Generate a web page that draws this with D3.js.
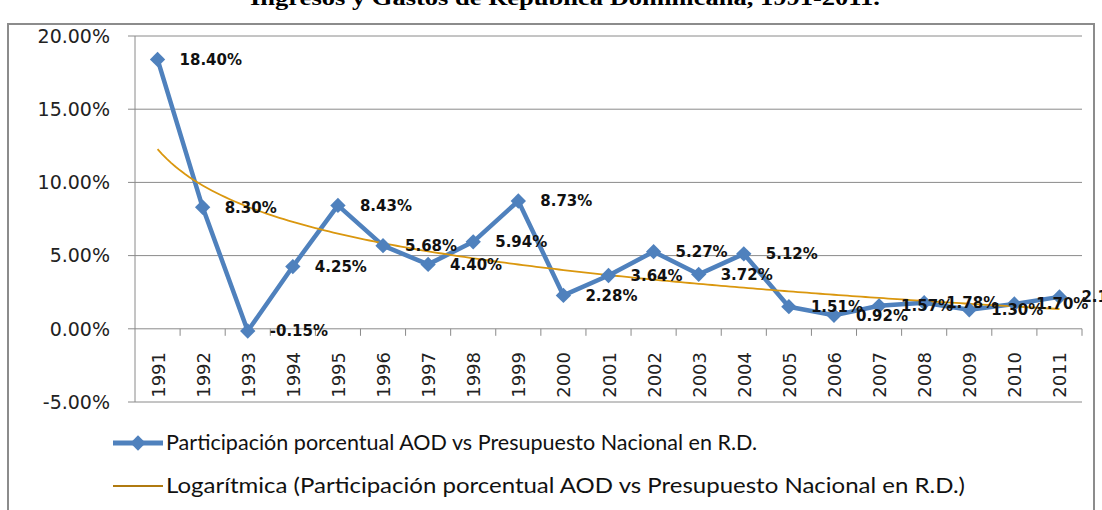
<!DOCTYPE html>
<meta charset="utf-8">
<svg width="1102" height="510"></svg>
<script src="https://d3js.org/d3.v7.min.js"></script>

<style>
body { margin: 0; background: #fff; }
.tick_text { font: 19px "DejaVu Sans"; fill: #222; }
.year_text { font: 18px "DejaVu Sans"; fill: #222; }
.point_label { font: bold 15px "DejaVu Sans"; fill: #111; }
.legend_text { font: 21px Lato; fill: #111; }
</style>

<script>

var years = ["1991", "1992", "1993", "1994", "1995", "1996", "1997", "1998", "1999", "2000",
             "2001", "2002", "2003", "2004", "2005", "2006", "2007", "2008", "2009", "2010", "2011"];
var aod_share = [18.40, 8.30, -0.15, 4.25, 8.43, 5.68, 4.40, 5.94, 8.73, 2.28,
                 3.64, 5.27, 3.72, 5.12, 1.51, 0.92, 1.57, 1.78, 1.30, 1.70, 2.18];
var y_ticks = [-5, 0, 5, 10, 15, 20];
var title = "Ingresos y Gastos de República Dominicana, 1991-2011.";
var series_name = "Participación porcentual AOD vs Presupuesto Nacional en R.D.";
var trend_name = "Logarítmica (Participación porcentual  AOD vs Presupuesto Nacional en R.D.)";

var svg = d3.select("svg"),
    plot_left = 135, plot_right = 1082, plot_top = 36, plot_bottom = 402;

var blue = "#4F81BD", gold = "#DA970E";

// title, cut off at the top like the source image
svg.append("text")
    .attr("x", 565)
    .attr("y", 5)
    .attr("text-anchor", "middle")
    .attr("textLength", 630)
    .attr("lengthAdjust", "spacingAndGlyphs")
    .style("font", "bold 21px 'Liberation Serif'")
    .text(title);

// chart frame
svg.append("rect")
    .attr("x", 8).attr("y", 24)
    .attr("width", 1086).attr("height", 520)
    .attr("fill", "none")
    .attr("stroke", "#8c8c8c")
    .attr("stroke-width", 2);

var x = d3.scaleBand().domain(years).range([plot_left, plot_right]);
var y = d3.scaleLinear().domain([-5, 20]).range([plot_bottom, plot_top]);

// gridlines + y labels
y_ticks.forEach(function(t) {
  svg.append("line")
      .attr("x1", plot_left - 7).attr("x2", plot_right)
      .attr("y1", y(t)).attr("y2", y(t))
      .attr("stroke", "#8a8a8a").attr("stroke-width", 1);
  svg.append("text")
      .attr("class", "tick_text")
      .attr("x", 110)
      .attr("y", y(t))
      .attr("dy", "0.36em")
      .attr("text-anchor", "end")
      .text(t.toFixed(2) + "%");
});

// y axis line
svg.append("line")
    .attr("x1", plot_left).attr("x2", plot_left)
    .attr("y1", plot_top).attr("y2", plot_bottom)
    .attr("stroke", "#8a8a8a");

// category ticks on the zero line
years.forEach(function(yr) {
  var xx = x(yr) + x.bandwidth();
  svg.append("line")
      .attr("x1", xx).attr("x2", xx)
      .attr("y1", y(0)).attr("y2", y(0) + 7)
      .attr("stroke", "#8a8a8a");
  svg.append("text")
      .attr("class", "year_text")
      .attr("transform", "translate(" + (x(yr) + x.bandwidth() / 2 + 7) + "," + 352 + ") rotate(-90)")
      .attr("text-anchor", "end")
      .text(yr);
});

// series line
var cx = function(d, i) { return x(years[i]) + x.bandwidth() / 2; };
svg.append("path")
    .datum(aod_share)
    .attr("fill", "none")
    .attr("stroke", blue)
    .attr("stroke-width", 4.5)
    .attr("stroke-linejoin", "round")
    .attr("d", d3.line().x(cx).y(function(d) { return y(d); }));

// logarithmic trend (least squares on ln(index))
var n = aod_share.length, sx = 0, sy = 0, sxx = 0, sxy = 0;
aod_share.forEach(function(v, i) {
  var l = Math.log(i + 1);
  sx += l; sy += v; sxx += l * l; sxy += l * v;
});
var slope = (n * sxy - sx * sy) / (n * sxx - sx * sx),
    icpt = (sy - slope * sx) / n;
var trend = d3.range(1, n + 0.001, 0.1).map(function(t) { return [t, icpt + slope * Math.log(t)]; });
var tx = d3.scaleLinear().domain([1, n]).range([cx(0, 0), cx(0, n - 1)]);
svg.append("path")
    .datum(trend)
    .attr("fill", "none")
    .attr("stroke", gold)
    .attr("stroke-width", 1.8)
    .attr("d", d3.line().x(function(d) { return tx(d[0]); }).y(function(d) { return y(d[1]); }));

// markers
var diamond = d3.symbol().type(d3.symbolDiamond2).size(150);
aod_share.forEach(function(v, i) {
  svg.append("path")
      .attr("transform", "translate(" + cx(v, i) + "," + y(v) + ")")
      .attr("d", diamond)
      .attr("fill", blue);
});

// data labels
aod_share.forEach(function(v, i) {
  svg.append("text")
      .attr("class", "point_label")
      .attr("x", cx(v, i) + 22)
      .attr("y", y(v))
      .attr("dy", "0.36em")
      .text(v.toFixed(2) + "%");
});

// legend
svg.append("line")
    .attr("x1", 113).attr("x2", 163)
    .attr("y1", 443).attr("y2", 443)
    .attr("stroke", blue).attr("stroke-width", 5);
svg.append("path")
    .attr("transform", "translate(138,443)")
    .attr("d", diamond)
    .attr("fill", blue);
svg.append("text")
    .attr("class", "legend_text")
    .attr("x", 166).attr("y", 443)
    .attr("dy", "0.35em")
    .attr("textLength", 591)
    .attr("lengthAdjust", "spacingAndGlyphs")
    .text(series_name);

svg.append("line")
    .attr("x1", 113).attr("x2", 163)
    .attr("y1", 486).attr("y2", 486)
    .attr("stroke", "#B07A10").attr("stroke-width", 2);
svg.append("text")
    .attr("class", "legend_text")
    .attr("x", 166).attr("y", 486)
    .attr("dy", "0.35em")
    .attr("textLength", 799)
    .attr("lengthAdjust", "spacingAndGlyphs")
    .text(trend_name);

</script>
